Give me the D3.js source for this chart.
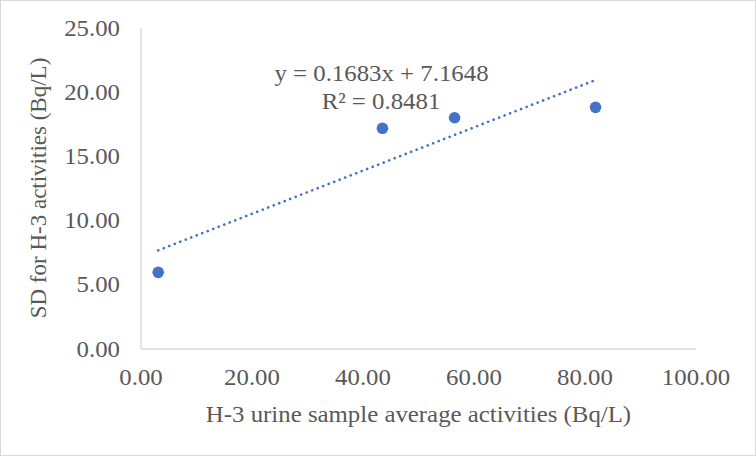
<!DOCTYPE html>
<html><head><meta charset="utf-8">
<script src="https://cdn.jsdelivr.net/npm/d3@7"></script>
<style>body{margin:0;background:#fff}svg{display:block}</style>
</head><body>
<svg id="c" width="756" height="456"></svg>
<script>
const xValues = [3.1, 43.5, 56.5, 81.9];
const yValues = [5.97, 17.19, 18.01, 18.82];
const xTicks = [0, 20, 40, 60, 80, 100];
const yTicks = [0, 5, 10, 15, 20, 25];
const slope = 0.1683, intercept = 7.1648;
const eqLabel = "y = 0.1683x + 7.1648";
const r2Label = "R² = 0.8481";
const xTitle = "H-3 urine sample average activities (Bq/L)";
const yTitle = "SD for H-3 activities (Bq/L)";

const svg = d3.select("#c");
const font = "'Liberation Serif','Times New Roman',serif";
const grey = "#595959";
const FS = 23, SX = 1.08;
svg.append("rect").attr("x",0.5).attr("y",0.5).attr("width",755).attr("height",455)
  .attr("fill","#fff").attr("stroke","#d9d9d9");

const x = d3.scaleLinear().domain([0,100]).range([141,696]);
const y = d3.scaleLinear().domain([0,25]).range([349,28]);

function label(px, py, txt, anchor){
  return svg.append("text")
    .attr("transform",`translate(${px},${py}) scale(${SX},1)`)
    .attr("text-anchor",anchor).attr("font-family",font).attr("font-size",FS)
    .attr("fill",grey).text(txt);
}

svg.append("line").attr("x1",x(0)).attr("x2",x(100)).attr("y1",y(0)).attr("y2",y(0)).attr("stroke","#d9d9d9").attr("stroke-width",1.3);
svg.append("line").attr("x1",x(0)).attr("x2",x(0)).attr("y1",y(0)).attr("y2",y(25)).attr("stroke","#d9d9d9").attr("stroke-width",1.3);

xTicks.forEach(d=>label(x(d),385,d.toFixed(2),"middle"));
yTicks.forEach(d=>label(120,y(d)+7.5,d.toFixed(2),"end"));

label(418.5,421.5,xTitle,"middle");
svg.append("text").attr("transform","translate(46,188) scale(1,1) rotate(-90)").attr("text-anchor","middle")
  .attr("font-family",font).attr("font-size",FS).attr("fill",grey).text(yTitle);

const x0 = d3.min(xValues), x1 = d3.max(xValues);
svg.append("line").attr("x1",x(x0)).attr("y1",y(intercept+slope*x0))
  .attr("x2",x(x1)).attr("y2",y(intercept+slope*x1))
  .attr("stroke","#4472C4").attr("stroke-width",2.6).attr("stroke-linecap","round")
  .attr("stroke-dasharray","0.1 5.8");

svg.selectAll(".pt").data(xValues).enter().append("circle")
  .attr("cx",d=>x(d)).attr("cy",(d,i)=>y(yValues[i])).attr("r",5.8).attr("fill","#4472C4");

label(381.5,81,eqLabel,"middle");
label(381,108.5,r2Label,"middle");
</script>
</body></html>
